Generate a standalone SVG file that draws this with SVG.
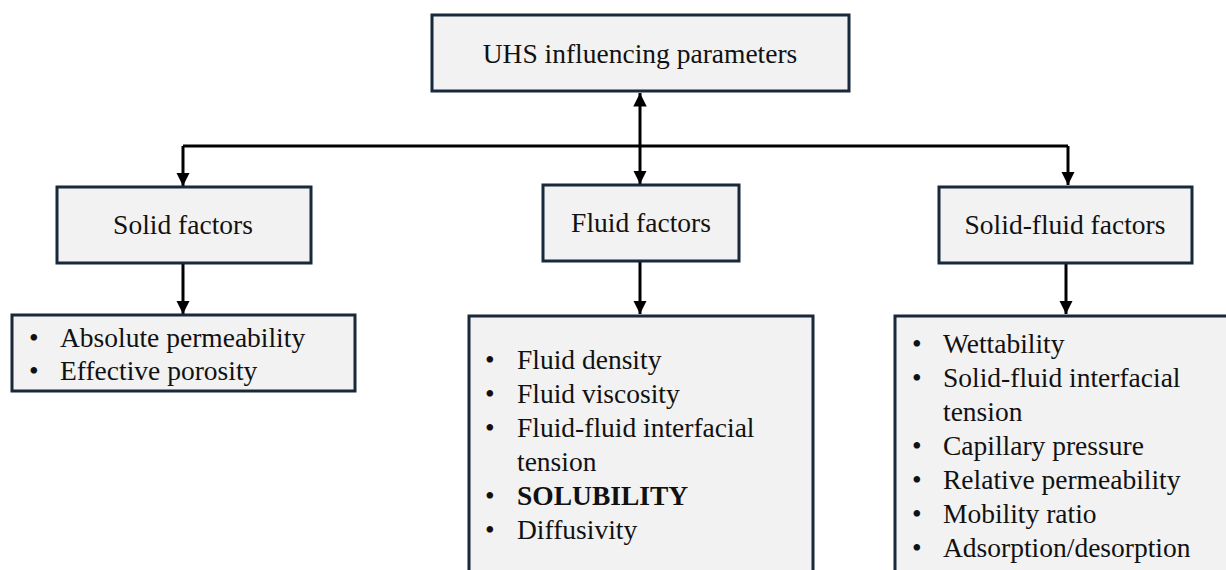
<svg xmlns="http://www.w3.org/2000/svg" width="1226" height="570" viewBox="0 0 1226 570">
<defs>
<style>
.box{fill:#f2f2f2;stroke:#17293a;stroke-width:3}
.t{font-family:"Liberation Serif","Times New Roman",serif;font-size:27.5px;fill:#111}
.c{text-anchor:middle}
.b{font-weight:bold}
.ln{stroke:#000;stroke-width:3;fill:none}
</style>
<marker id="ah" viewBox="0 0 10 10" refX="10" refY="5" markerWidth="4.5" markerHeight="4.5" markerUnits="strokeWidth" orient="auto"><path d="M0,0 L10,5 L0,10 Z" fill="#000"/></marker>
</defs>
<rect width="1226" height="570" fill="#fff"/>
<g id="connectors">
<path class="ln" d="M183,146 H1068"/>
<path class="ln" d="M640,146 V93" marker-end="url(#ah)"/>
<path class="ln" d="M183,146 V186" marker-end="url(#ah)"/>
<path class="ln" d="M640,146 V184" marker-end="url(#ah)"/>
<path class="ln" d="M1068,146 V185" marker-end="url(#ah)"/>
<path class="ln" d="M183,263 V314" marker-end="url(#ah)"/>
<path class="ln" d="M640,261 V314" marker-end="url(#ah)"/>
<path class="ln" d="M1066,263 V314" marker-end="url(#ah)"/>
</g>
<g id="root">
<rect class="box" x="432" y="15" width="417" height="76"/>
<text class="t c" x="640" y="63">UHS influencing parameters</text>
</g>
<g id="solid">
<rect class="box" x="57" y="187" width="254" height="76"/>
<text class="t c" x="183" y="234">Solid factors</text>
</g>
<g id="fluid">
<rect class="box" x="543" y="185" width="196" height="76"/>
<text class="t c" x="641" y="232">Fluid factors</text>
</g>
<g id="solidfluid">
<rect class="box" x="939" y="187" width="253" height="76"/>
<text class="t c" x="1065" y="234">Solid-fluid factors</text>
</g>
<g id="solid-list">
<rect class="box" x="12" y="315" width="343" height="76"/>
<text class="t" x="29" y="347">•</text><text class="t" x="60" y="347">Absolute permeability</text>
<text class="t" x="29" y="380">•</text><text class="t" x="60" y="380">Effective porosity</text>
</g>
<g id="fluid-list">
<rect class="box" x="469" y="316" width="344" height="270"/>
<text class="t" x="485" y="369">•</text><text class="t" x="517" y="369">Fluid density</text>
<text class="t" x="485" y="403">•</text><text class="t" x="517" y="403">Fluid viscosity</text>
<text class="t" x="485" y="437">•</text><text class="t" x="517" y="437">Fluid-fluid interfacial</text>
<text class="t" x="517" y="471">tension</text>
<text class="t" x="485" y="505">•</text><text class="t b" x="517" y="505">SOLUBILITY</text>
<text class="t" x="485" y="539">•</text><text class="t" x="517" y="539">Diffusivity</text>
</g>
<g id="solidfluid-list">
<rect class="box" x="895" y="316" width="345" height="270"/>
<text class="t" x="912" y="353">•</text><text class="t" x="943" y="353">Wettability</text>
<text class="t" x="912" y="387">•</text><text class="t" x="943" y="387">Solid-fluid interfacial</text>
<text class="t" x="943" y="421">tension</text>
<text class="t" x="912" y="455">•</text><text class="t" x="943" y="455">Capillary pressure</text>
<text class="t" x="912" y="489">•</text><text class="t" x="943" y="489">Relative permeability</text>
<text class="t" x="912" y="523">•</text><text class="t" x="943" y="523">Mobility ratio</text>
<text class="t" x="912" y="557">•</text><text class="t" x="943" y="557">Adsorption/desorption</text>
</g>
</svg>
